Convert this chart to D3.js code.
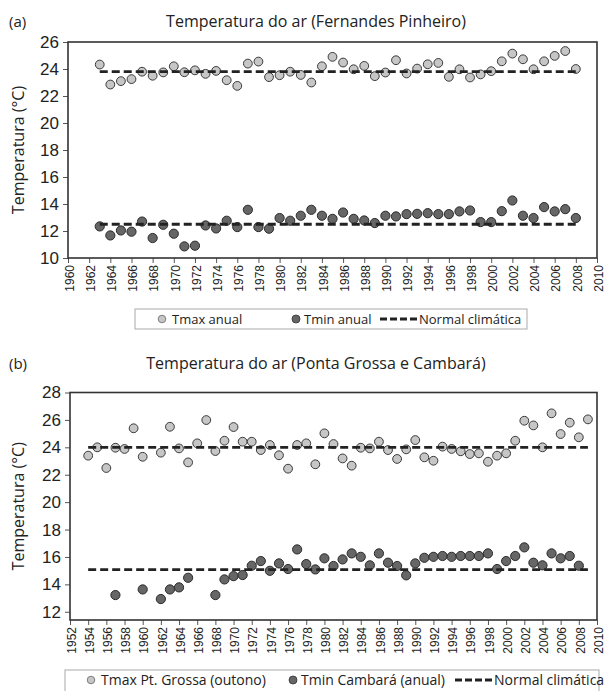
<!DOCTYPE html>
<html lang="pt">
<head>
  <title>Temperatura do ar</title>
  <meta charset="UTF-8">
  <style>
    body { margin: 0; background: #fff; font-family: "Open Sans", sans-serif; }
    svg text { fill: #222; }
  </style>
  <script src="https://cdn.jsdelivr.net/npm/d3@7"></script>
</head>
<body>
<script>
// (a) Fernandes Pinheiro
var yearsA = [1963,1964,1965,1966,1967,1968,1969,1970,1971,1972,1973,1974,1975,1976,1977,1978,1979,1980,1981,1982,
  1983,1984,1985,1986,1987,1988,1989,1990,1991,1992,1993,1994,1995,1996,1997,1998,1999,2000,2001,2002,
  2003,2004,2005,2006,2007,2008];
var tmaxA = [24.33,22.85,23.1,23.25,23.8,23.5,23.75,24.2,23.76,23.9,23.64,23.86,23.17,22.75,24.4,24.55,23.4,23.54,23.8,23.56,
  23.0,24.2,24.9,24.48,23.98,24.23,23.47,23.74,24.65,23.67,24.03,24.35,24.45,23.42,23.98,23.37,23.6,23.84,24.57,25.14,
  24.72,23.98,24.57,24.97,25.33,24.0];
var tminA = [12.34,11.67,12.04,11.95,12.7,11.48,12.46,11.8,10.86,10.91,12.41,12.19,12.76,12.29,13.57,12.29,12.17,12.96,12.76,13.13,
  13.57,13.13,12.9,13.37,12.9,12.78,12.59,13.13,13.08,13.25,13.27,13.32,13.25,13.25,13.45,13.52,12.66,12.66,13.47,14.26,
  13.13,12.96,13.77,13.45,13.62,12.96];
var normalA = [23.8, 12.5];
var yearTicksA = d3.range(1960, 2011, 2);
var tempTicksA = [10,12,14,16,18,20,22,24,26];
var legendA = ["Tmax anual", "Tmin anual", "Normal climática"];

// (b) Ponta Grossa e Cambará
var yearsMaxB = [1954,1955,1956,1957,1958,1959,1960,1962,1963,1964,1965,1966,1967,1968,1969,1970,1971,1972,1973,1974,
  1975,1976,1977,1978,1979,1980,1981,1982,1983,1984,1985,1986,1987,1988,1989,1990,1991,1992,1993,1994,
  1995,1996,1997,1998,1999,2000,2001,2002,2003,2004,2005,2006,2007,2008,2009];
var tmaxB = [23.39,24.0,22.49,23.97,23.88,25.39,23.31,23.61,25.5,23.92,22.9,24.29,25.99,23.73,24.48,25.48,24.41,24.41,23.8,24.17,
  23.42,22.44,24.17,24.29,22.76,25.02,24.24,23.19,22.66,23.97,23.92,24.41,23.8,23.15,23.85,24.53,23.27,23.02,24.05,23.88,
  23.71,23.51,23.56,22.95,23.39,23.56,24.48,25.94,25.6,24.0,26.48,24.97,25.8,24.73,26.04];
var yearsMinB = [1957,1960,1962,1963,1964,1965,1968,1969,1970,1971,1972,1973,1974,1975,1976,1977,1978,1979,1980,1981,
  1982,1983,1984,1985,1986,1987,1988,1989,1990,1991,1992,1993,1994,1995,1996,1997,1998,1999,2000,2001,
  2002,2003,2004,2005,2006,2007,2008];
var tminB = [13.22,13.63,12.93,13.63,13.78,14.48,13.22,14.36,14.6,14.68,15.36,15.7,14.99,15.53,15.12,16.55,15.48,15.09,15.9,15.34,
  15.82,16.26,16.01,15.39,16.26,15.58,15.34,14.66,15.53,15.94,16.01,16.07,16.01,16.07,16.07,16.07,16.26,15.12,15.7,16.07,
  16.7,15.58,15.39,16.26,15.9,16.07,15.36];
var normalB = [24.0, 15.07];
var yearTicksB = d3.range(1952, 2011, 2);
var tempTicksB = [12,14,16,18,20,22,24,26,28];
var legendB = ["Tmax Pt. Grossa (outono)", "Tmin Cambará (anual)", "Normal climática"];

var light = "#c6c6c6", dark = "#666666";

var svg = d3.select("body").append("svg")
  .attr("width", 606)
  .attr("height", 691);

function panel(opt) {
  var g = svg.append("g");
  var x = d3.scaleLinear().domain(opt.xDomain).range([opt.left, opt.right]);
  var y = d3.scaleLinear().domain(opt.yDomain).range([opt.bottom, opt.top]);

  g.append("text").attr("x", 9).attr("y", opt.titleY)
    .style("font-size", "15px").text(opt.tag);
  g.append("text").attr("x", 316).attr("y", opt.titleY)
    .attr("text-anchor", "middle").style("font-size", "16px").text(opt.title);

  g.append("text")
    .attr("transform", "translate(18.5," + ((opt.top + opt.bottom) / 2) + ") rotate(-90)")
    .attr("text-anchor", "middle").attr("dy", "0.35em")
    .style("font-size", "16px").text("Temperatura (°C)");

  var ya = g.append("g").attr("transform", "translate(" + opt.left + ",0)")
    .call(d3.axisLeft(y).tickValues(opt.yTicks).tickSize(5).tickSizeOuter(0));
  ya.select(".domain").remove();
  ya.selectAll("line").attr("stroke", "#555");
  ya.selectAll("text").style("font-size", "17px").attr("x", -9).attr("fill", "#222");

  var xa = g.append("g").attr("transform", "translate(0," + opt.bottom + ")")
    .call(d3.axisBottom(x).tickValues(opt.xTicks).tickFormat(d3.format("d")).tickSize(5).tickSizeOuter(0));
  xa.select(".domain").remove();
  xa.selectAll("line").attr("stroke", "#555");
  xa.selectAll("text")
    .attr("transform", "rotate(-90)")
    .attr("x", -7).attr("y", 1).attr("dy", "0.35em")
    .attr("text-anchor", "end")
    .style("font-size", "12px").attr("fill", "#222");

  g.append("rect")
    .attr("x", opt.left).attr("y", opt.top)
    .attr("width", opt.right - opt.left).attr("height", opt.bottom - opt.top)
    .attr("fill", "none").attr("stroke", "#333").attr("stroke-width", 1.6);

  g.append("g").selectAll("circle").data(opt.maxYears)
    .enter().append("circle")
    .attr("cx", function(d) { return x(d); })
    .attr("cy", function(d, i) { return y(opt.maxVals[i]); })
    .attr("r", 4.4).attr("fill", light).attr("stroke", "#3a3a3a").attr("stroke-width", 1);

  g.append("g").selectAll("circle").data(opt.minYears)
    .enter().append("circle")
    .attr("cx", function(d) { return x(d); })
    .attr("cy", function(d, i) { return y(opt.minVals[i]); })
    .attr("r", 4.6).attr("fill", dark).attr("stroke", "#2a2a2a").attr("stroke-width", 1);

  g.append("g").selectAll("line").data(opt.normals)
    .enter().append("line")
    .attr("x1", x(opt.normalSpan[0])).attr("x2", x(opt.normalSpan[1]))
    .attr("y1", function(d) { return y(d); }).attr("y2", function(d) { return y(d); })
    .attr("stroke", "#222").attr("stroke-width", 2.8).attr("stroke-dasharray", "8,4");

  // legend
  var L = opt.legend;
  var lg = g.append("g");
  lg.append("rect").attr("x", L.x0).attr("y", L.y0).attr("width", L.x1 - L.x0).attr("height", L.h)
    .attr("fill", "#fff").attr("stroke", "#aaa").attr("stroke-width", 1);
  var cy = L.y0 + 10;
  lg.append("circle").attr("cx", L.pos[0]).attr("cy", cy).attr("r", 3.8)
    .attr("fill", light).attr("stroke", "#666").attr("stroke-width", 0.8);
  lg.append("text").attr("x", L.pos[0] + 10).attr("y", cy).attr("dy", "0.35em")
    .style("font-size", L.fs + "px").text(L.labels[0]);
  lg.append("circle").attr("cx", L.pos[1]).attr("cy", cy).attr("r", 4)
    .attr("fill", dark).attr("stroke", "#333").attr("stroke-width", 0.8);
  lg.append("text").attr("x", L.pos[1] + 8).attr("y", cy).attr("dy", "0.35em")
    .style("font-size", L.fs + "px").text(L.labels[1]);
  lg.append("line").attr("x1", L.pos[2]).attr("x2", L.pos[2] + 38).attr("y1", cy).attr("y2", cy)
    .attr("stroke", "#222").attr("stroke-width", 2.8).attr("stroke-dasharray", "7,3");
  lg.append("text").attr("x", L.pos[2] + 39).attr("y", cy).attr("dy", "0.35em")
    .style("font-size", L.fs + "px").text(L.labels[2]);
}

panel({
  tag: "(a)", title: "Temperatura do ar (Fernandes Pinheiro)", titleY: 27,
  left: 68, right: 597, top: 42, bottom: 258,
  xDomain: [1960, 2010], yDomain: [10, 26],
  xTicks: yearTicksA, yTicks: tempTicksA,
  maxYears: yearsA, maxVals: tmaxA, minYears: yearsA, minVals: tminA,
  normals: normalA, normalSpan: [yearsA[0], yearsA[yearsA.length - 1]],
  legend: { x0: 135, x1: 527, y0: 309, h: 20, fs: 13, pos: [162, 296, 380], labels: legendA }
});

panel({
  tag: "(b)", title: "Temperatura do ar (Ponta Grossa e Cambará)", titleY: 369,
  left: 70, right: 597, top: 392.5, bottom: 620,
  xDomain: [1952, 2010], yDomain: [11.4, 28],
  xTicks: yearTicksB, yTicks: tempTicksB,
  maxYears: yearsMaxB, maxVals: tmaxB, minYears: yearsMinB, minVals: tminB,
  normals: normalB, normalSpan: [yearsMaxB[0], yearsMaxB[yearsMaxB.length - 1]],
  legend: { x0: 65, x1: 599, y0: 670, h: 24, fs: 14, pos: [91, 293, 455], labels: legendB }
});
</script>
</body>
</html>
